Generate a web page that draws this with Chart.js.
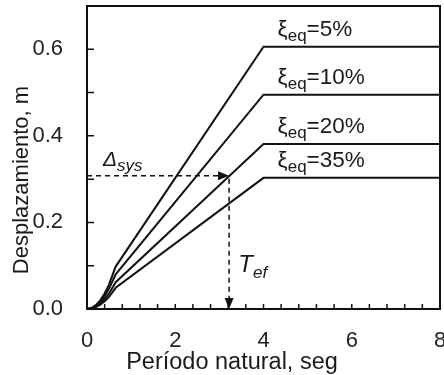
<!DOCTYPE html>
<html>
<head>
<meta charset="utf-8">
<script src="https://cdn.jsdelivr.net/npm/chart.js@4.4.1/dist/chart.umd.min.js"></script>
<style>
  html, body { margin: 0; padding: 0; background: #fff; }
  #wrap { width: 444px; height: 375px; }
</style>
</head>
<body>
<div id="wrap"><canvas id="grafico"></canvas></div>
<script>
// Espectros de desplazamiento para distintos amortiguamientos
const periodos = [0, 0.1, 0.2, 0.3, 0.4, 0.5, 0.65, 4, 8];
const sd5  = [0, 0.002, 0.009, 0.020, 0.036, 0.057, 0.098, 0.606, 0.606];
const sd10 = [0, 0.002, 0.007, 0.016, 0.030, 0.047, 0.080, 0.495, 0.495];
const sd20 = [0, 0.0015, 0.0055, 0.0125, 0.023, 0.036, 0.062, 0.381, 0.381];
const sd35 = [0, 0.001, 0.0045, 0.010, 0.018, 0.028, 0.049, 0.303, 0.303];
const amortiguamientos = ["5%", "10%", "20%", "35%"];
const xTicks = [0, 2, 4, 6, 8];
const yTicks = [0, 0.2, 0.4, 0.6];
const tEf = 3.22;       // periodo efectivo
const deltaSys = 0.308; // desplazamiento del sistema

const fam = '"Liberation Sans", Arial, sans-serif';
const series = [sd5, sd10, sd20, sd35];

function conSub(ctx, main, sub, resto, x0, yb, size, subSize, italic) {
    const st = italic ? "italic " : "";
    ctx.font = st + size + "px " + fam;
    ctx.fillText(main, x0, yb);
    let w = ctx.measureText(main).width;
    ctx.font = st + subSize + "px " + fam;
    ctx.fillText(sub, x0 + w, yb + size * 0.24);
    w += ctx.measureText(sub).width;
    if (resto) {
        ctx.font = size + "px " + fam;
        ctx.fillText(resto, x0 + w, yb);
    }
}

function sinRelleno(s) {
    s.paddingLeft = 0; s.paddingRight = 0; s.paddingTop = 0; s.paddingBottom = 0;
}

const marcas = {
    id: "marcas",
    afterDraw(chart) {
        const { ctx, chartArea: a, scales: { x, y } } = chart;
        ctx.save();
        ctx.strokeStyle = "#111";
        ctx.fillStyle = "#111";

        // marco
        ctx.lineWidth = 2;
        ctx.strokeRect(a.left, a.top, a.right - a.left, a.bottom - a.top);

        // marcas interiores
        ctx.lineWidth = 1.5;
        ctx.beginPath();
        for (let i = 1; i < 7; i++) {
            const py = y.getPixelForValue(i / 10);
            ctx.moveTo(a.left, py); ctx.lineTo(a.left + 7, py);
        }
        for (let i = 1; i < 20; i++) {
            const px = x.getPixelForValue(i * 0.4);
            ctx.moveTo(px, a.bottom); ctx.lineTo(px, a.bottom - 5);
        }
        ctx.stroke();

        // flechas discontinuas
        const px = x.getPixelForValue(tEf), py = y.getPixelForValue(deltaSys);
        ctx.setLineDash([5, 4]);
        ctx.beginPath();
        ctx.moveTo(a.left, py); ctx.lineTo(px - 8, py);
        ctx.moveTo(px, py + 3); ctx.lineTo(px, a.bottom - 8);
        ctx.stroke();
        ctx.setLineDash([]);
        ctx.beginPath();
        ctx.moveTo(px, py); ctx.lineTo(px - 11, py - 4.5); ctx.lineTo(px - 11, py + 4.5);
        ctx.closePath(); ctx.fill();
        ctx.beginPath();
        ctx.moveTo(px, a.bottom); ctx.lineTo(px - 4.5, a.bottom - 11); ctx.lineTo(px + 4.5, a.bottom - 11);
        ctx.closePath(); ctx.fill();

        // textos
        ctx.fillStyle = "#1a1a1a";
        ctx.textBaseline = "alphabetic";
        ctx.textAlign = "left";
        conSub(ctx, "\u0394", "sys", "", x.getPixelForValue(0.36), py - 10, 21, 17, true);
        conSub(ctx, "T", "ef", "", x.getPixelForValue(3.43), y.getPixelForValue(0.086), 24, 17, true);
        series.forEach((s, i) => {
            conSub(ctx, "\u03BE", "eq", "=" + amortiguamientos[i],
                x.getPixelForValue(4.32), y.getPixelForValue(s[s.length - 1]) - 11, 22.5, 17, false);
        });

        // títulos de ejes
        ctx.font = "23.5px " + fam;
        ctx.textAlign = "center";
        ctx.fillText("Período natural, seg", 232, 369);
        ctx.translate(28, 180);
        ctx.rotate(-Math.PI / 2);
        ctx.font = "22px " + fam;
        ctx.fillText("Desplazamiento, m", 0, 0);
        ctx.restore();
    }
};

new Chart(document.getElementById("grafico"), {
    type: "line",
    data: {
        datasets: series.map((s, i) => ({
            label: amortiguamientos[i],
            data: periodos.map((t, j) => ({ x: t, y: s[j] })),
            borderColor: "#111",
            borderWidth: 2,
            pointRadius: 0,
            fill: false,
            tension: 0
        }))
    },
    options: {
        responsive: true,
        maintainAspectRatio: false,
        animation: false,
        layout: { padding: { top: 6, right: 4, left: 0, bottom: 0 } },
        plugins: { legend: { display: false }, tooltip: { enabled: false } },
        scales: {
            x: {
                type: "linear", min: 0, max: 8,
                grid: { display: false, drawTicks: false },
                border: { display: false },
                afterBuildTicks: s => { s.ticks = xTicks.map(v => ({ value: v })); },
                afterFit: s => { s.height = 66; sinRelleno(s); },
                ticks: {
                    font: { family: fam, size: 22 }, color: "#222",
                    padding: 19, maxRotation: 0, autoSkip: false,
                    callback: v => String(v)
                }
            },
            y: {
                type: "linear", min: 0, max: 0.7,
                grid: { display: false, drawTicks: false },
                border: { display: false },
                afterBuildTicks: s => { s.ticks = yTicks.map(v => ({ value: v })); },
                afterFit: s => { s.width = 87; sinRelleno(s); },
                ticks: {
                    font: { family: fam, size: 22 }, color: "#222",
                    padding: 24, autoSkip: false,
                    callback: v => v.toFixed(1)
                }
            }
        }
    },
    plugins: [marcas]
});
</script>
</body>
</html>
